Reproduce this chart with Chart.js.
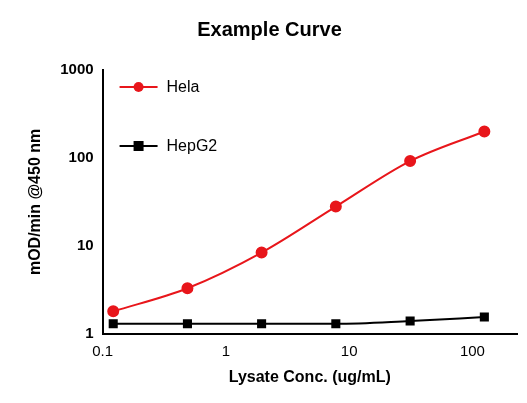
<!DOCTYPE html>
<html><head><script src="https://cdn.jsdelivr.net/npm/chart.js@4"></script>
<style>body{margin:0;background:#fff}#w{width:527px;height:403px}</style></head>
<body><div id="w"><canvas id="c"></canvas></div>
<script>
const concs=[0.122,0.488,1.95,7.8,31.25,125];
const hela=[1.8,3.3,8.4,28,92,200];
const hepg2=[1.3,1.3,1.3,1.3,1.4,1.55];
const xTicks=[0.1,1,10,100];
const yTicks=[1,10,100,1000];
const F='Liberation Sans, Arial, sans-serif';
const legendPlugin={id:'lg',afterDraw(ch){const c=ch.ctx,a=ch.chartArea;c.save();
 const items=[['Hela','#e8161b','circle'],['HepG2','#000','rect']];
 items.forEach((it,i)=>{const y=a.top+17+i*59,x0=a.left+17;c.strokeStyle=it[1];c.fillStyle=it[1];c.lineWidth=2;
 c.beginPath();c.moveTo(x0,y);c.lineTo(x0+38,y);c.stroke();
 if(it[2]==='circle'){c.beginPath();c.arc(x0+19,y,5,0,7);c.fill();}else c.fillRect(x0+14,y-5,10,10);
 c.fillStyle='#000';c.font='16px '+F;c.textBaseline='middle';c.fillText(it[0],x0+47,y+1);});c.restore();}};
new Chart(document.getElementById('c'),{type:'line',
data:{datasets:[
{label:'Hela',data:concs.map((x,i)=>({x,y:hela[i]})),borderColor:'#e8161b',backgroundColor:'#e8161b',pointStyle:'circle',pointRadius:5,borderWidth:2,cubicInterpolationMode:'monotone'},
{label:'HepG2',data:concs.map((x,i)=>({x,y:hepg2[i]})),borderColor:'#000',backgroundColor:'#000',pointStyle:'rect',pointRadius:5,borderWidth:2,cubicInterpolationMode:'monotone'}]},
options:{responsive:true,maintainAspectRatio:false,animation:false,
layout:{padding:{left:22,right:10,top:6,bottom:12}},
plugins:{legend:{display:false},tooltip:{enabled:false},
title:{display:true,text:'Example Curve',font:{family:F,size:20,weight:'900'},color:'#000',padding:{top:12,bottom:28}}},
scales:{
x:{type:'logarithmic',min:0.1,max:230,afterBuildTicks:s=>{s.ticks=xTicks.map(v=>({value:v}))},
 ticks:{color:'#000',font:{family:F,size:15},callback:v=>String(v)},
 grid:{display:false,drawTicks:true,tickLength:6,tickColor:'#000'},border:{color:'#000',width:2},
 title:{display:true,text:'Lysate Conc. (ug/mL)',font:{family:F,size:16,weight:'bold'},color:'#000'}},
y:{type:'logarithmic',min:1,max:1000,afterBuildTicks:s=>{s.ticks=yTicks.map(v=>({value:v}))},
 ticks:{color:'#000',font:{family:F,size:15,weight:'bold'},callback:v=>String(v)},
 grid:{display:false,drawTicks:true,tickLength:6,tickColor:'#000'},border:{color:'#000',width:2},
 title:{display:true,text:'mOD/min @450 nm',font:{family:F,size:16,weight:'bold'},color:'#000',padding:{bottom:12}}}}},
plugins:[legendPlugin]});
</script></body></html>
